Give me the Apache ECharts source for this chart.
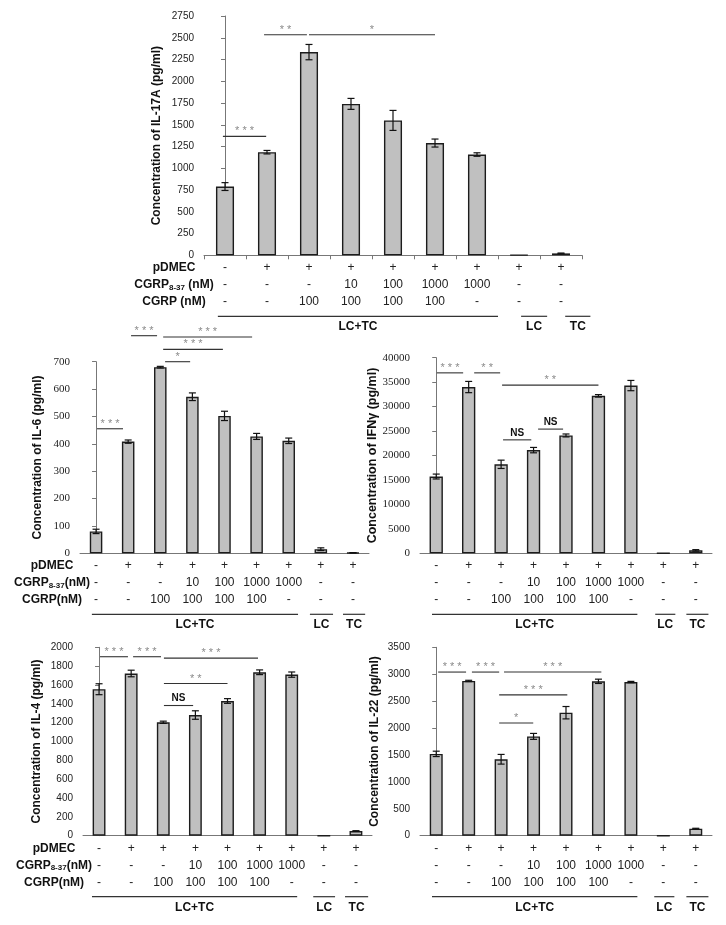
<!DOCTYPE html>
<html><head><meta charset="utf-8">
<script src="https://cdn.jsdelivr.net/npm/echarts@6/dist/echarts.min.js"></script>
<style>html,body{margin:0;padding:0;background:#fff}#c{width:726px;height:925px}</style>
</head><body><div id="c"></div>
<script>
// ---------- data ----------
const categories = ['A','B','C','D','E','F','G','H','I'];
const pdmecRow = ['-','+','+','+','+','+','+','+','+'];
const antagonistRow = ['-','-','-','10','100','1000','1000','-','-'];
const cgrpRow = ['-','-','100','100','100','100','-','-','-'];

const il17aValues = [790,1185,2335,1740,1550,1290,1158,4,22];
const il17aErrors = [45,20,88,63,115,46,20,0,4];
const il6Values = [80,408,680,572,502,427,411,15,2];
const il6Errors = [8,6,3,14,17,11,10,5,0.5];
const ifngValues = [15700,34000,18200,21100,24100,32200,34300,50,600];
const ifngErrors = [500,1150,850,550,300,250,1050,0,150];
const il4Values = [1555,1722,1204,1281,1430,1735,1710,0,50];
const il4Errors = [58,35,12,45,25,25,28,0,3];
const il22Values = [1520,2875,1420,1845,2285,2868,2855,0,130];
const il22Errors = [50,12,90,55,115,40,12,0,8];

// significance brackets: [from, to, level, label]
const il17aSig = [[-0.05,0.98,1367,'***'],[0.93,1.95,2535,'**'],[2.0,5.0,2535,'*']];
const il6Sig = [[0.03,0.84,455,'***'],[1.09,1.9,795,'***'],[2.09,4.86,790,'***'],[2.09,3.95,745,'***'],[2.15,2.93,700,'*']];
const ifngSig = [[0.02,0.83,36900,'***'],[1.17,1.97,36900,'**'],[2.03,5.0,34400,'**'],[2.06,2.93,23200,'NS'],[3.14,3.91,25400,'NS']];
const il4Sig = [[0.03,0.9,1900,'***'],[1.06,1.93,1900,'***'],[2.02,4.95,1885,'***'],[2.02,4.0,1615,'**'],[2.02,2.93,1382,'NS']];
const il22Sig = [[0.06,0.92,3040,'***'],[1.1,1.94,3040,'***'],[2.09,5.09,3040,'***'],[1.94,4.04,2617,'***'],[1.94,2.99,2093,'*']];

// group underlines: [from, to, label]
const groupsTop = [[-0.17,6.5,'LC+TC'],[7.05,7.67,'LC'],[8.1,8.7,'TC']];
const groupsMidL = [[-0.13,6.29,'LC+TC'],[6.66,7.38,'LC'],[7.69,8.38,'TC']];
const groupsMidR = [[-0.13,6.2,'LC+TC'],[6.75,7.37,'LC'],[7.71,8.39,'TC']];
const groupsBotL = [[-0.22,6.17,'LC+TC'],[6.67,7.35,'LC'],[7.66,8.38,'TC']];
const groupsBotR = [[-0.13,6.2,'LC+TC'],[6.72,7.34,'LC'],[7.71,8.39,'TC']];

const SANS = 'Liberation Sans';
const SERIF = 'Liberation Serif';

const panels = [
  {title:'Concentration of IL-17A (pg/ml)', values:il17aValues, errors:il17aErrors, sig:il17aSig, groups:groupsTop,
   left:204, top:16, width:378, height:239.3, max:2750, interval:250, tickFont:SANS, tickSize:10, xTicks:true,
   titleX:157, rowLabels:true, rowX:174, barW:'43%', titleSize:12},
  {title:'Concentration of IL-6 (pg/ml)', values:il6Values, errors:il6Errors, sig:il6Sig, groups:groupsMidL,
   left:80, top:361.7, width:289, height:191.6, max:700, interval:100, tickFont:SERIF, tickSize:11, xTicks:false,
   titleX:38, rowLabels:true, rowX:52, barW:'39%', titleSize:12},
  {title:'Concentration of IFNγ (pg/ml)', values:ifngValues, errors:ifngErrors, sig:ifngSig, groups:groupsMidR,
   left:420, top:357.7, width:292, height:195.6, max:40000, interval:5000, tickFont:SERIF, tickSize:11, xTicks:false,
   titleX:373, rowLabels:false, barW:'41%', titleSize:12.5},
  {title:'Concentration of IL-4 (pg/ml)', values:il4Values, errors:il4Errors, sig:il4Sig, groups:groupsBotL,
   left:83, top:647.3, width:289, height:188.4, max:2000, interval:200, tickFont:SANS, tickSize:10, xTicks:false,
   titleX:37, rowLabels:true, rowX:54, barW:'40%', titleSize:12},
  {title:'Concentration of IL-22 (pg/ml)', values:il22Values, errors:il22Errors, sig:il22Sig, groups:groupsBotR,
   left:420, top:647.3, width:292, height:188.4, max:3500, interval:500, tickFont:SANS, tickSize:10, xTicks:false,
   titleX:375, rowLabels:false, barW:'40%', titleSize:12}
];

const grid = [], xAxis = [], yAxis = [], series = [], graphic = [];

panels.forEach((p, k) => {
  grid.push({left:p.left, top:p.top, width:p.width, height:p.height, containLabel:false});
  xAxis.push({
    gridIndex:k, type:'category', data:categories,
    axisLine:{lineStyle:{color:'#777', width:1}},
    axisTick:{show:p.xTicks, length:4, lineStyle:{color:'#777'}},
    axisLabel:{interval:0, margin:4, fontSize:12, lineHeight:17, color:'#222', fontFamily:SANS, hideOverlap:false,
      formatter:(v, i) => pdmecRow[i] + '\n' + antagonistRow[i] + '\n' + cgrpRow[i]}
  });
  xAxis.push({gridIndex:k, type:'value', min:-0.5, max:8.5, show:false});
  yAxis.push({
    gridIndex:k, type:'value', min:0, max:p.max, interval:p.interval,
    axisLine:{show:true, lineStyle:{color:'#777', width:1}},
    axisTick:{show:true, length:4, lineStyle:{color:'#777'}},
    splitLine:{show:false},
    axisLabel:{fontFamily:p.tickFont, fontSize:p.tickSize, color:'#222', margin:10, formatter:v => String(v)}
  });
  series.push({
    type:'bar', xAxisIndex:2*k, yAxisIndex:k, data:p.values, barWidth:p.barW, z:2,
    itemStyle:{color:'#c0c0c0', borderColor:'#1c1c1c', borderWidth:1.4}, silent:true, animation:false
  });
  // error bars
  const errs = p.errors;
  series.push({
    type:'custom', xAxisIndex:2*k+1, yAxisIndex:k, animation:false, silent:true, z:10,
    data:p.values.map((v, i) => [i, v, errs[i]]),
    renderItem:(params, api) => {
      const x = api.value(0), v = api.value(1), e = api.value(2);
      if (!e) return null;
      const hi = api.coord([x, v + e]), lo = api.coord([x, v - e]);
      const cw = 3.5;
      const st = {stroke:'#111', lineWidth:1.2};
      return {type:'group', children:[
        {type:'line', shape:{x1:hi[0], y1:hi[1], x2:lo[0], y2:lo[1]}, style:st},
        {type:'line', shape:{x1:hi[0]-cw, y1:hi[1], x2:hi[0]+cw, y2:hi[1]}, style:st},
        {type:'line', shape:{x1:lo[0]-cw, y1:lo[1], x2:lo[0]+cw, y2:lo[1]}, style:st}
      ]};
    }
  });
  // significance brackets
  const sig = p.sig;
  series.push({
    type:'custom', xAxisIndex:2*k+1, yAxisIndex:k, animation:false, silent:true, clip:false, z:10,
    data:sig.map(s => [s[0], s[2], s[1]]),
    renderItem:(params, api) => {
      const a = api.coord([api.value(0), api.value(1)]);
      const b = api.coord([api.value(2), api.value(1)]);
      const lab = sig[params.dataIndex][3];
      const ns = lab === 'NS';
      return {type:'group', children:[
        {type:'line', shape:{x1:a[0], y1:a[1], x2:b[0], y2:b[1]}, style:{stroke:'#333', lineWidth:1.1}},
        {type:'text', x:(a[0]+b[0])/2, y:ns ? a[1]-7 : a[1]-5,
         style:{text: ns ? lab : lab.split('').join(' '), align:'center', verticalAlign:'middle',
                fill: ns ? '#111' : '#8a8a8a',
                font: ns ? 'bold 10px ' + SANS : '11px ' + SANS}}
      ]};
    }
  });
  // group underlines
  const groups = p.groups;
  series.push({
    type:'custom', xAxisIndex:2*k+1, yAxisIndex:k, animation:false, silent:true, clip:false, z:10,
    data:groups.map(g => [g[0], 0, g[1]]),
    renderItem:(params, api) => {
      const a = api.coord([api.value(0), 0]);
      const b = api.coord([api.value(2), 0]);
      const lab = groups[params.dataIndex][2];
      return {type:'group', children:[
        {type:'line', shape:{x1:a[0], y1:a[1]+61, x2:b[0], y2:a[1]+61}, style:{stroke:'#333', lineWidth:1.2}},
        {type:'text', x:(a[0]+b[0])/2, y:a[1]+71.5,
         style:{text:lab, align:'center', verticalAlign:'middle', fill:'#111', font:'bold 12px ' + SANS}}
      ]};
    }
  });
  // y axis title
  graphic.push({
    type:'text', x:p.titleX, y:p.top + p.height/2, rotation:Math.PI/2,
    style:{text:p.title, align:'center', verticalAlign:'middle', fill:'#111', font:'bold ' + p.titleSize + 'px ' + SANS}
  });
  // row labels
  if (p.rowLabels) {
    const base = p.top + p.height + 12.5;
    const rows = [
      {text:'pDMEC'},
      {text:'CGRP{sub|8-37}' + (k === 0 ? ' (nM)' : '(nM)')},
      {text:'CGRP' + (k === 0 ? ' (nM)' : '(nM)')}
    ];
    rows.forEach((r, j) => {
      graphic.push({
        type:'text', x:p.rowX, y:base + 17*j,
        style:{text:r.text, align:'center', verticalAlign:'middle', fill:'#111', font:'bold 12px ' + SANS,
               rich:{sub:{fontSize:8, fontWeight:'bold', fontFamily:SANS, fill:'#111', padding:[6,0,0,0]}}}
      });
    });
  }
});

const chart = echarts.init(document.getElementById('c'), null, {renderer:'canvas'});
chart.setOption({animation:false, backgroundColor:'#fff', grid, xAxis, yAxis, series, graphic});
</script>
</body></html>
